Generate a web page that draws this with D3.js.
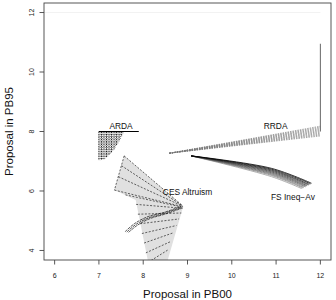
<!DOCTYPE html>
<html>
<head>
<meta charset="utf-8">
<script src="https://cdn.jsdelivr.net/npm/d3@7"></script>
<style>
  body { margin: 0; background: #fff; }
  svg { display: block; font-family: "Liberation Sans", Arial, sans-serif; }
</style>
</head>
<body>
<div id="chart"></div>
<script>
// axis ticks
const xTicks = [6, 7, 8, 9, 10, 11, 12];
const yTicks = [4, 6, 8, 10, 12];

// ARDA: solid line at 8 and the dashed fan below it
const ardaLineX = [7.0, 7.9];
const ardaLineY = [8.0, 8.0];
const ardaTopX = [7.00, 7.057, 7.114, 7.171, 7.228, 7.285, 7.342, 7.399, 7.456, 7.513, 7.57];
const ardaBotY = [7.03, 7.04, 7.07, 7.13, 7.20, 7.29, 7.40, 7.53, 7.67, 7.83, 8.00];

// RRDA: fan from one point out to x = 12, then a vertical run
const rrdaStart = [8.59, 7.27];
const rrdaEndY = [8.18, 8.15, 8.12, 8.09, 8.06, 8.03, 8.00, 7.97, 7.94, 7.91, 7.88, 7.85];
const rrdaVertY = [8.0, 10.95];

// FS Ineq-Av: bundle of bent lines
const fsStart = [9.08, 7.18];
const fsMidX = [10.90, 10.90, 10.90, 10.90, 10.90, 10.90, 10.90, 10.90, 10.90, 10.90];
const fsMidY = [6.76, 6.73, 6.70, 6.67, 6.64, 6.61, 6.58, 6.55, 6.52, 6.48];
const fsEndX = [11.80, 11.78, 11.75, 11.73, 11.70, 11.68, 11.66, 11.63, 11.61, 11.58];
const fsEndY = [6.26, 6.24, 6.22, 6.20, 6.18, 6.16, 6.14, 6.12, 6.10, 6.08];
const fsColors = ['#000', '#111', '#222', '#333', '#444', '#555', '#666', '#777', '#888', '#999'];

// CES Altruism: shaded area, dashed lines and a solid curve bundle
const cesPolyX = [7.57, 7.35, 7.83, 8.14, 8.50, 8.90, 8.87];
const cesPolyY = [7.18, 6.03, 5.70, 3.40, 3.40, 5.46, 5.53];
const cesDashX1 = [7.57, 7.51, 7.44, 7.35, 7.60, 7.84, 7.88, 7.93, 7.97, 8.02, 8.06, 8.11];
const cesDashY1 = [7.18, 6.85, 6.48, 6.03, 5.87, 5.55, 5.22, 4.90, 4.57, 4.25, 3.92, 3.60];
const cesDashX2 = [8.87, 8.88, 8.89, 8.90, 8.90, 8.89, 8.86, 8.81, 8.75, 8.69, 8.62, 8.56];
const cesDashY2 = [5.53, 5.51, 5.49, 5.47, 5.45, 5.42, 5.26, 5.06, 4.84, 4.60, 4.30, 4.02];
const cesCurves = [
  { x: [7.59, 7.81, 8.11, 8.49, 8.85], y: [4.63, 4.91, 5.14, 5.29, 5.48] },
  { x: [7.63, 7.84, 8.13, 8.50, 8.86], y: [4.62, 4.88, 5.10, 5.26, 5.45] },
  { x: [7.67, 7.87, 8.15, 8.51, 8.87], y: [4.61, 4.85, 5.07, 5.23, 5.42] }
];

// text labels
const labels = [
  { text: 'ARDA', x: 7.5, y: 8.07 },
  { text: 'RRDA', x: 10.99, y: 8.07 },
  { text: 'CES Altruism', x: 9.0, y: 5.88 },
  { text: 'FS Ineq\u2212Av', x: 11.38, y: 5.70 }
];

const width = 336, height = 300;
const box = { left: 44, right: 331, top: 3, bottom: 260 };

const x = d3.scaleLinear().domain([5.76, 12.24]).range([box.left, box.right]);
const y = d3.scaleLinear().domain([3.68, 12.32]).range([box.bottom, box.top]);

const svg = d3.select('#chart').append('svg')
  .attr('width', width)
  .attr('height', height);

svg.append('clipPath').attr('id', 'plot-clip')
  .append('rect')
  .attr('x', box.left).attr('y', box.top)
  .attr('width', box.right - box.left).attr('height', box.bottom - box.top);

const plot = svg.append('g').attr('clip-path', 'url(#plot-clip)');

// faint line at the top of the range
plot.append('line')
  .attr('x1', x(5.76)).attr('x2', x(12))
  .attr('y1', y(12)).attr('y2', y(12))
  .attr('stroke', '#eee').attr('stroke-width', 0.8);

// CES shaded region
plot.append('polygon')
  .attr('points', cesPolyX.map((d, i) => [x(d), y(cesPolyY[i])].join(',')).join(' '))
  .attr('fill', '#e0e0e0')
  .attr('stroke', 'none');

plot.append('path')
  .attr('d', d3.line()([[x(cesPolyX[0]), y(cesPolyY[0])], [x(cesPolyX[1]), y(cesPolyY[1])]]))
  .attr('stroke', '#222').attr('stroke-width', 0.7).attr('stroke-dasharray', '2,1.5').attr('fill', 'none');

plot.selectAll('.ces-dash')
  .data(cesDashX1)
  .join('line')
  .attr('class', 'ces-dash')
  .attr('x1', d => x(d))
  .attr('y1', (d, i) => y(cesDashY1[i]))
  .attr('x2', (d, i) => x(cesDashX2[i]))
  .attr('y2', (d, i) => y(cesDashY2[i]))
  .attr('stroke', '#222')
  .attr('stroke-width', 0.7)
  .attr('stroke-dasharray', '2,1.5');

const curveLine = d3.line()
  .x(d => x(d[0]))
  .y(d => y(d[1]))
  .curve(d3.curveCatmullRom);

plot.selectAll('.ces-curve')
  .data(cesCurves)
  .join('path')
  .attr('class', 'ces-curve')
  .attr('d', c => curveLine(c.x.map((v, i) => [v, c.y[i]])))
  .attr('fill', 'none')
  .attr('stroke', '#111')
  .attr('stroke-width', 0.7)
  .attr('stroke-dasharray', '3,0.8');

// ARDA
plot.selectAll('.arda-fan')
  .data(ardaTopX)
  .join('line')
  .attr('class', 'arda-fan')
  .attr('x1', d => x(d)).attr('y1', y(8))
  .attr('x2', d => x(d)).attr('y2', (d, i) => y(ardaBotY[i]))
  .attr('stroke', '#222')
  .attr('stroke-width', 1)
  .attr('stroke-dasharray', '1.6,0.8');

plot.selectAll('.arda-fan2')
  .data(ardaTopX.slice(0, -1))
  .join('line')
  .attr('class', 'arda-fan2')
  .attr('x1', (d, i) => x((d + ardaTopX[i + 1]) / 2)).attr('y1', y(8))
  .attr('x2', (d, i) => x((d + ardaTopX[i + 1]) / 2)).attr('y2', (d, i) => y((ardaBotY[i] + ardaBotY[i + 1]) / 2))
  .attr('stroke', '#444')
  .attr('stroke-width', 0.8)
  .attr('stroke-dasharray', '1.2,1');

plot.append('path')
  .attr('d', d3.line()(ardaLineX.map((d, i) => [x(d), y(ardaLineY[i])])))
  .attr('stroke', '#000').attr('stroke-width', 1.2).attr('fill', 'none');

// RRDA
plot.selectAll('.rrda-fan')
  .data(rrdaEndY)
  .join('line')
  .attr('class', 'rrda-fan')
  .attr('x1', x(rrdaStart[0])).attr('y1', y(rrdaStart[1]))
  .attr('x2', x(12)).attr('y2', d => y(d))
  .attr('stroke', '#777')
  .attr('stroke-width', 0.6)
  .attr('stroke-dasharray', '1.5,1');

plot.append('line')
  .attr('x1', x(12)).attr('x2', x(12))
  .attr('y1', y(rrdaVertY[0])).attr('y2', y(rrdaVertY[1]))
  .attr('stroke', '#666').attr('stroke-width', 1);

// FS Ineq-Av
const fsLine = d3.line().curve(d3.curveCatmullRom);
plot.selectAll('.fs-line')
  .data(fsMidX.map((d, i) => i).reverse())
  .join('path')
  .attr('class', 'fs-line')
  .attr('d', i => fsLine([
    [x(fsStart[0]), y(fsStart[1])],
    [x(fsMidX[i]), y(fsMidY[i])],
    [x(fsEndX[i]), y(fsEndY[i])]
  ]))
  .attr('fill', 'none')
  .attr('stroke', i => fsColors[i])
  .attr('stroke-width', 0.8);

// labels
svg.selectAll('.series-label')
  .data(labels)
  .join('text')
  .attr('class', 'series-label')
  .attr('x', d => x(d.x))
  .attr('y', d => y(d.y))
  .attr('text-anchor', 'middle')
  .attr('font-size', 8.4)
  .attr('fill', '#111')
  .text(d => d.text);

// box
svg.append('rect')
  .attr('x', box.left).attr('y', box.top)
  .attr('width', box.right - box.left).attr('height', box.bottom - box.top)
  .attr('fill', 'none').attr('stroke', '#444').attr('stroke-width', 0.9);

// x axis
const xAxis = svg.append('g');
xAxis.selectAll('line')
  .data(xTicks)
  .join('line')
  .attr('x1', d => x(d)).attr('x2', d => x(d))
  .attr('y1', box.bottom).attr('y2', box.bottom + 4.5)
  .attr('stroke', '#444').attr('stroke-width', 0.9);
xAxis.selectAll('text')
  .data(xTicks)
  .join('text')
  .attr('x', d => x(d)).attr('y', 275)
  .attr('text-anchor', 'middle')
  .attr('dominant-baseline', 'central')
  .attr('font-size', 7)
  .attr('fill', '#222')
  .text(d => d);

// y axis
const yAxis = svg.append('g');
yAxis.selectAll('line')
  .data(yTicks)
  .join('line')
  .attr('x1', box.left).attr('x2', box.left - 4.5)
  .attr('y1', d => y(d)).attr('y2', d => y(d))
  .attr('stroke', '#444').attr('stroke-width', 0.9);
yAxis.selectAll('text')
  .data(yTicks)
  .join('text')
  .attr('transform', d => `translate(31,${y(d)}) rotate(-90)`)
  .attr('text-anchor', 'middle')
  .attr('dominant-baseline', 'central')
  .attr('font-size', 7)
  .attr('fill', '#222')
  .text(d => d);

// axis titles
svg.append('text')
  .attr('x', (box.left + box.right) / 2).attr('y', 294)
  .attr('text-anchor', 'middle')
  .attr('dominant-baseline', 'central')
  .attr('font-size', 11.5)
  .attr('fill', '#111')
  .text('Proposal in PB00');

svg.append('text')
  .attr('transform', `translate(8.5,${(box.top + box.bottom) / 2}) rotate(-90)`)
  .attr('text-anchor', 'middle')
  .attr('dominant-baseline', 'central')
  .attr('font-size', 11.5)
  .attr('fill', '#111')
  .text('Proposal in PB95');
</script>
</body>
</html>
